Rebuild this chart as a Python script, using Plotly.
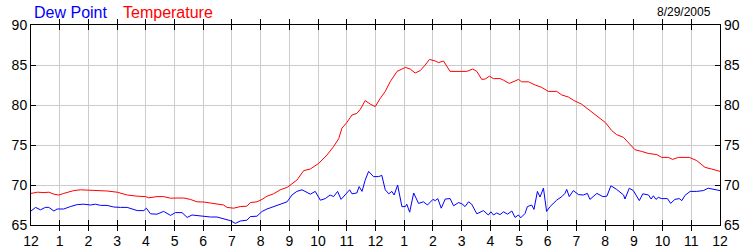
import plotly.graph_objects as go

# Hours after midnight and readings (°F) for 8/29/2005
temp_hours = [0.0, 0.23, 0.45, 0.62, 0.80, 0.97, 1.14, 1.49, 1.72, 2.01, 2.19, 2.42, 2.65, 3.00, 3.35,
              3.70, 3.99, 4.10, 4.39, 4.62, 4.86, 5.09, 5.32, 5.55, 5.78, 6.02, 6.25, 6.48, 6.71, 6.83,
              7.06, 7.29, 7.52, 7.64, 7.87, 8.05, 8.22, 8.45, 8.68, 8.92, 9.03, 9.26, 9.50, 9.73, 10.02,
              10.31, 10.54, 10.72, 10.83, 11.0, 11.18, 11.35, 11.47, 11.64, 11.82, 11.99, 12.16, 12.34,
              12.51, 12.75, 13.04, 13.21, 13.38, 13.56, 13.73, 13.88, 14.08, 14.20, 14.37, 14.60, 15.18,
              15.39, 15.53, 15.70, 15.82, 15.97, 16.11, 16.34, 16.46, 16.66, 16.86, 16.98, 17.09, 17.33,
              17.56, 17.79, 18.02, 18.31, 18.49, 18.72, 18.89, 19.18, 19.47, 19.71, 20.01, 20.23, 20.40,
              20.64, 20.87, 21.04, 21.27, 21.50, 21.80, 21.97, 22.20, 22.35, 22.55, 22.93, 23.19, 23.48,
              23.71, 24.0]
temperature = [68.95, 69.1, 69.05, 69.1, 68.85, 68.75, 68.95, 69.3, 69.4, 69.35, 69.4, 69.3, 69.25, 69.1, 68.75,
               68.6, 68.55, 68.4, 68.55, 68.55, 68.35, 68.37, 68.37, 68.2, 67.9, 67.87, 67.75, 67.7, 67.5, 67.2,
               67.1, 67.3, 67.35, 67.8, 67.9, 68.2, 68.6, 68.9, 69.4, 69.7, 70.0, 70.6, 71.8, 72.0, 72.7,
               73.75, 74.8, 75.8, 77.1, 77.8, 78.75, 78.95, 79.45, 80.55, 80.1, 79.8, 80.8, 81.7,
               82.9, 84.2, 84.7, 84.5, 84.0, 84.3, 85.0, 85.7, 85.5, 85.3, 85.5, 84.2, 84.2,
               84.5, 84.2, 83.2, 83.25, 83.6, 83.3, 83.3, 83.1, 82.7, 83.0, 83.2, 82.9, 82.9,
               82.5, 82.2, 81.7, 81.7, 81.25, 81.0, 80.6, 80.1, 79.3, 78.6, 77.8, 76.8, 76.3,
               75.95, 75.0, 74.4, 74.2, 73.95, 73.8, 73.45, 73.45, 73.2, 73.45, 73.45, 73.05, 72.2,
               72.0, 71.7]

dew_hours = [0.0, 0.16, 0.33, 0.50, 0.62, 0.80, 0.91, 1.14, 1.37, 1.61, 1.84, 2.07, 2.25, 2.42, 2.65, 2.88,
             3.12, 3.35, 3.70, 3.93, 4.02, 4.16, 4.39, 4.62, 4.86, 5.03, 5.26, 5.44, 5.61, 5.84, 6.02, 6.25,
             6.48, 6.71, 6.94, 7.12, 7.29, 7.52, 7.64, 7.87, 8.05, 8.22, 8.45, 8.68, 8.92, 9.09, 9.26, 9.44,
             9.61, 9.73, 9.90, 10.08, 10.25, 10.42, 10.54, 10.68, 10.80, 10.95, 11.10, 11.18, 11.35, 11.43,
             11.53, 11.64, 11.76, 11.93, 12.11, 12.22, 12.34, 12.46, 12.57, 12.65, 12.77, 12.92, 13.04,
             13.09, 13.19, 13.33, 13.50, 13.67, 13.81, 14.0, 14.08, 14.17, 14.29, 14.43, 14.60, 14.72,
             14.89, 15.01, 15.12, 15.24, 15.35, 15.53, 15.76, 15.93, 16.02, 16.11, 16.22, 16.34, 16.46,
             16.60, 16.75, 16.86, 16.98, 17.06, 17.21, 17.29, 17.44, 17.52, 17.64, 17.73, 17.85, 17.96,
             18.08, 18.31, 18.49, 18.60, 18.66, 18.75, 18.89, 19.07, 19.24, 19.38, 19.47, 19.71, 19.92,
             20.06, 20.20, 20.40, 20.64, 20.69, 20.84, 20.98, 21.19, 21.31, 21.51, 21.60, 21.68, 21.77,
             21.85, 21.97, 22.17, 22.28, 22.43, 22.58, 22.67, 22.78, 22.96, 23.19, 23.42, 23.59, 23.77, 24.0]
dew_point = [66.75, 67.2, 66.9, 67.2, 67.2, 66.75, 67.0, 67.0, 67.3, 67.55, 67.6, 67.5, 67.6, 67.45, 67.45, 67.25,
             67.2, 67.2, 66.8, 66.8, 67.1, 66.4, 66.35, 66.7, 66.2, 66.55, 66.55, 65.95, 66.25, 66.15, 66.1, 66.0,
             66.0, 65.75, 65.55, 65.2, 65.5, 65.6, 66.05, 66.1, 66.7, 67.0, 67.3, 67.6, 67.9, 68.75, 69.2, 69.4,
             69.05, 68.85, 69.2, 68.1, 68.3, 68.75, 68.55, 69.2, 68.2, 68.75, 69.4, 68.9, 69.0, 69.8,
             69.2, 70.6, 71.7, 71.05, 71.05, 71.2, 69.4, 68.9, 69.2, 68.75, 70.0, 67.3, 67.3,
             67.6, 66.6, 69.0, 67.7, 67.9, 67.5, 68.2, 68.05, 68.3, 67.1, 68.25, 68.3, 67.4,
             67.8, 67.65, 67.3, 67.9, 67.6, 66.4, 66.8, 66.25, 66.65, 66.25, 66.5, 66.3, 66.65,
             66.35, 66.75, 65.95, 66.25, 65.9, 66.45, 67.3, 67.5, 66.95, 69.2, 68.5, 69.6, 66.7,
             67.3, 68.1, 68.55, 68.95, 69.45, 68.55, 69.3, 68.8, 68.75, 68.95, 68.2, 68.95, 68.55,
             68.6, 69.9, 69.45, 68.75, 68.25, 69.6, 69.3, 68.05, 68.9, 68.75, 68.25, 68.65, 68.2,
             68.45, 68.3, 68.3, 67.7, 68.2, 68.3, 68.05, 68.7, 69.2, 69.2, 69.3, 69.6, 69.5, 69.3]

x_tickvals = list(range(0, 25))
x_ticktext = ["12", "1", "2", "3", "4", "5", "6", "7", "8", "9", "10", "11",
              "12", "1", "2", "3", "4", "5", "6", "7", "8", "9", "10", "11", "12"]
y_tickvals = [65, 70, 75, 80, 85, 90]
date_label = "8/29/2005"

FONT = "Liberation Sans, Arial, sans-serif"

fig = go.Figure()
fig.add_trace(go.Scatter(x=dew_hours, y=dew_point, mode="lines", name="Dew Point",
                         line=dict(color="#0000FF", width=1)))
fig.add_trace(go.Scatter(x=temp_hours, y=temperature, mode="lines", name="Temperature",
                         line=dict(color="#FF0000", width=1), yaxis="y2"))

axis_common = dict(showline=True, linecolor="black", linewidth=1, ticks="inside", ticklen=5,
                   tickcolor="black", gridcolor="#cccccc", gridwidth=1, zeroline=False,
                   automargin=False,
                   tickfont=dict(family=FONT, size=14, color="black"))

fig.update_layout(
    width=750, height=250,
    margin=dict(l=31, r=30, t=25, b=25),
    paper_bgcolor="white", plot_bgcolor="white",
    showlegend=False,
    xaxis=dict(range=[0, 24], tickvals=x_tickvals, ticktext=x_ticktext, mirror="allticks",
               ticklabelstandoff=3, **axis_common),
    yaxis=dict(range=[65, 90], tickvals=y_tickvals, mirror="allticks", **axis_common),
    yaxis2=dict(range=[65, 90], tickvals=y_tickvals, overlaying="y", side="right",
                showgrid=False, showline=False, ticks="", zeroline=False, automargin=False,
                ticklabelstandoff=3,
                tickfont=dict(family=FONT, size=14, color="black")),
    annotations=[
        dict(text="Dew Point", xref="paper", yref="paper", x=0.002, y=1.065, xanchor="left",
             yanchor="middle", showarrow=False, font=dict(family=FONT, size=16, color="#0000FF")),
        dict(text="Temperature", xref="paper", yref="paper", x=0.130, y=1.065, xanchor="left",
             yanchor="middle", showarrow=False, font=dict(family=FONT, size=16, color="#FF0000")),
        dict(text=date_label, xref="paper", yref="paper", x=0.99, y=1.065, xanchor="right",
             yanchor="middle", showarrow=False, font=dict(family=FONT, size=12, color="black")),
    ],
)

fig.write_html("out.html")
